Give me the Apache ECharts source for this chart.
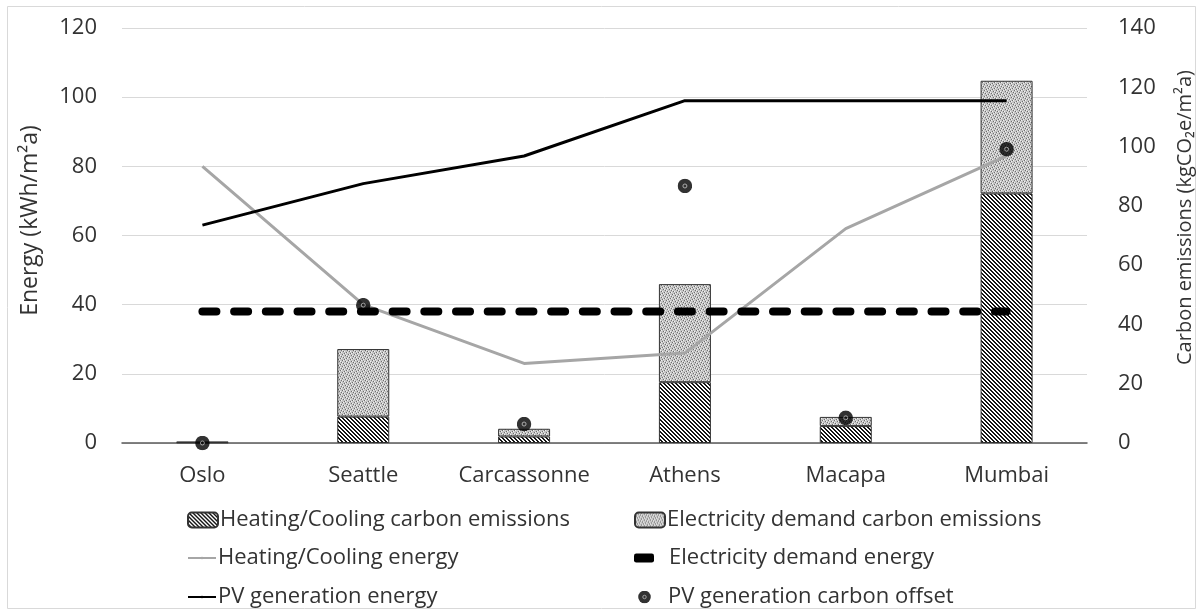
<!DOCTYPE html>
<html>
<head>
<meta charset="utf-8">
<script src="https://cdn.jsdelivr.net/npm/echarts@6/dist/echarts.min.js"></script>
<style>
html,body{margin:0;padding:0;background:#fff;}
#chart{width:1203px;height:615px;}
</style>
</head>
<body>
<div id="chart"></div>
<script>
const categories = ['Oslo', 'Seattle', 'Carcassonne', 'Athens', 'Macapa', 'Mumbai'];
const heatCoolCarbon = [0.2, 8.9, 2.2, 20.5, 5.7, 84.2];
const elecCarbon = [0.2, 22.8, 2.6, 33.1, 3.1, 38.0];
const heatCoolEnergy = [80, 40, 23, 26, 62, 83];
const elecEnergy = [38, 38, 38, 38, 38, 38];
const pvEnergy = [63, 75, 83, 99, 99, 99];
const pvOffset = [0, 46.5, 6.4, 86.7, 8.5, 99.1];
const leftTicks = {min: 0, max: 120, interval: 20};
const rightTicks = {min: 0, max: 140, interval: 20};

const names = {
  hcc: 'Heating/Cooling carbon emissions',
  ec: 'Electricity demand carbon emissions',
  hce: 'Heating/Cooling energy',
  ee: 'Electricity demand energy',
  pve: 'PV generation energy',
  pvo: 'PV generation carbon offset'
};

function makeHatch() {
  const s = 4, c = document.createElement('canvas');
  c.width = s; c.height = s;
  const ctx = c.getContext('2d');
  const img = ctx.createImageData(s, s);
  for (let y = 0; y < s; y++) for (let x = 0; x < s; x++) {
    const i = (y * s + x) * 4;
    const on = ((x - y) % s + s) % s < 2;
    const v = on ? 20 : 255;
    img.data[i] = img.data[i+1] = img.data[i+2] = v; img.data[i+3] = 255;
  }
  ctx.putImageData(img, 0, 0);
  return c;
}
function makeStipple() {
  const s = 6, c = document.createElement('canvas');
  c.width = s; c.height = s;
  const ctx = c.getContext('2d');
  ctx.fillStyle = '#c4c4c4'; ctx.fillRect(0, 0, s, s);
  const dark = [[0,0],[3,1],[1,3],[4,4],[2,5],[5,2]];
  const light = [[1,0],[4,1],[2,3],[5,4],[0,2],[3,5]];
  ctx.fillStyle = '#6e6e6e';
  dark.forEach(p => ctx.fillRect(p[0], p[1], 1, 1));
  ctx.fillStyle = '#f2f2f2';
  light.forEach(p => ctx.fillRect(p[0], p[1], 1, 1));
  return c;
}
const hatch = {image: makeHatch(), repeat: 'repeat'};
const stipple = {image: makeStipple(), repeat: 'repeat'};
const dotSvg = 'image://data:image/svg+xml;utf8,' + encodeURIComponent(
  '<svg xmlns="http://www.w3.org/2000/svg" width="30" height="30" viewBox="0 0 30 30">' +
  '<circle cx="15" cy="15" r="14.5" fill="#000"/>' +
  '<circle cx="15" cy="15" r="4" fill="none" stroke="#9a9a9a" stroke-width="2"/></svg>');

const font = '"Open Sans", sans-serif';
const txt = '#333333';
const chart = echarts.init(document.getElementById('chart'), null, {renderer: 'canvas'});

function legend(name, left, top, w, h, extra) {
  return Object.assign({
    left: left, top: top, itemWidth: w, itemHeight: h, itemGap: 0, padding: 0,
    selectedMode: false,
    textStyle: {fontFamily: font, fontSize: 22, color: txt, padding: [0, 0, 0, -3]},
    data: [name]
  }, extra || {});
}

chart.setOption({
  animation: false,
  backgroundColor: '#fff',
  textStyle: {fontFamily: font},
  graphic: [{
    type: 'rect', shape: {x: 7.5, y: 6.5, width: 1188, height: 602},
    style: {fill: 'none', stroke: '#d9d9d9', lineWidth: 1}, silent: true
  }],
  legend: [
    legend(names.hcc, 187, 509, 30, 15),
    legend(names.hce, 187, 547, 28, 3),
    legend(names.pve, 187, 586, 28, 3),
    legend(names.ec, 634, 509, 30, 15),
    {left: 634, top: 547, itemWidth: 20, itemHeight: 9, padding: 0, selectedMode: false,
     textStyle: {fontFamily: font, fontSize: 22, color: txt, padding: [0, 0, 0, 10]},
     data: [{name: names.ee, icon: 'roundRect', itemStyle: {color: '#000', borderRadius: 4.5}}]},
    {left: 638, top: 586, itemWidth: 13, itemHeight: 13, padding: 0, selectedMode: false,
     textStyle: {fontFamily: font, fontSize: 22, color: txt, padding: [0, 0, 0, 12]},
     data: [{name: names.pvo, icon: dotSvg}]}
  ],
  grid: {left: 122, right: 103, top: 28, bottom: 172, containLabel: false},
  xAxis: {
    type: 'category', data: categories,
    axisLine: {lineStyle: {color: '#595959', width: 1.5}},
    axisTick: {show: false},
    axisLabel: {fontFamily: font, fontSize: 22, color: txt, margin: 22, interval: 0}
  },
  yAxis: [{
    type: 'value', min: leftTicks.min, max: leftTicks.max, interval: leftTicks.interval,
    name: 'Energy (kWh/m²a)', nameLocation: 'middle', nameGap: 80, nameRotate: 90,
    nameTextStyle: {fontFamily: font, fontSize: 23, color: txt, padding: [0, 0, 0, 30]},
    axisLine: {show: false}, axisTick: {show: false},
    axisLabel: {fontFamily: font, fontSize: 22, color: txt, margin: 25},
    splitLine: {lineStyle: {color: '#d9d9d9', width: 1}}
  }, {
    type: 'value', min: rightTicks.min, max: rightTicks.max, interval: rightTicks.interval,
    name: 'Carbon emissions (kgCO₂e/m²a)', nameLocation: 'middle', nameGap: 88, nameRotate: 90,
    nameTextStyle: {fontFamily: font, fontSize: 20, color: txt, padding: [0, 0, 0, 36]},
    axisLine: {show: false}, axisTick: {show: false},
    axisLabel: {fontFamily: font, fontSize: 22, color: txt, margin: 31},
    splitLine: {show: false}
  }],
  series: [{
    name: names.hcc, type: 'bar', stack: 'carbon', yAxisIndex: 1, barWidth: 52,
    itemStyle: {color: hatch, borderColor: '#333', borderWidth: 1}, data: heatCoolCarbon, z: 2
  }, {
    name: names.ec, type: 'bar', stack: 'carbon', yAxisIndex: 1, barWidth: 52,
    itemStyle: {color: stipple, borderColor: '#333', borderWidth: 1}, data: elecCarbon, z: 2
  }, {
    name: names.hce, type: 'line', yAxisIndex: 0, symbol: 'none', data: heatCoolEnergy,
    lineStyle: {color: '#a6a6a6', width: 3}, itemStyle: {color: '#a6a6a6'}, z: 3
  }, {
    name: names.ee, type: 'line', yAxisIndex: 0, symbol: 'none', data: elecEnergy,
    lineStyle: {color: '#000', width: 8, type: [14, 17.7], cap: 'round'}, itemStyle: {color: '#000'}, z: 4
  }, {
    name: names.pve, type: 'line', yAxisIndex: 0, symbol: 'none', data: pvEnergy,
    lineStyle: {color: '#000', width: 3}, itemStyle: {color: '#000'}, z: 4
  }, {
    name: names.pvo, type: 'scatter', yAxisIndex: 1, symbol: dotSvg, symbolSize: 15,
    data: pvOffset, z: 5
  }]
});
</script>
</body>
</html>
